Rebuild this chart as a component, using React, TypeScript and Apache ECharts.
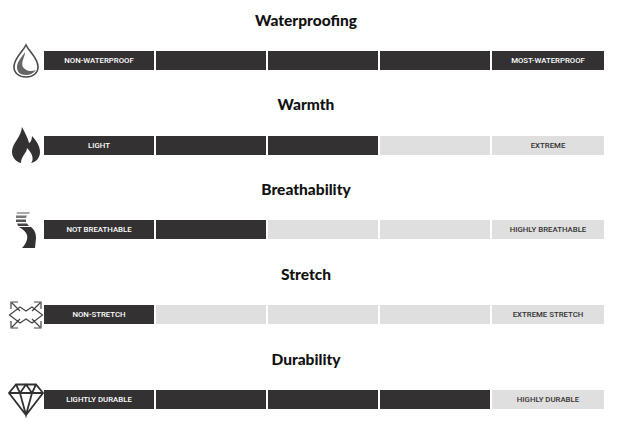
import React, { useEffect, useRef } from "react";
import * as echarts from "echarts";

const titles = ["Waterproofing", "Warmth", "Breathability", "Stretch", "Durability"];
const lowLabels = ["NON-WATERPROOF", "LIGHT", "NOT BREATHABLE", "NON-STRETCH", "LIGHTLY DURABLE"];
const highLabels = ["MOST-WATERPROOF", "EXTREME", "HIGHLY BREATHABLE", "EXTREME STRETCH", "HIGHLY DURABLE"];
const levels = [5, 3, 2, 1, 4];
const segments = [0, 1, 2, 3, 4];
const titleTops = [12, 96, 181, 266, 351];

const DARK = "#333132";
const LIGHT = "#dfdfdf";
const TITLE_FONT = "Lato, Inter, sans-serif";
const LABEL_FONT = "Roboto, sans-serif";

const shapes: Record<string, string> = {
  dropOuter: "M26 45C22 53 14 58 14 67C14 73 19 77 26 77C33 77 38 73 38 67C38 58 30 53 26 45Z",
  dropInner: "M25 52C21 58 17 62 17 67C17 72 20 75 26 75C30 75 34 73 36 70C30 72.500 24 70 22.500 66C21.500 60 25 57 25 52Z",
  flame: "M22 127C25 133 28 138 29 143C31 142 32 139 32 136C37 141 40 147 40 152C40 158 36 162 31 163C34 160 33 154 27 148C27 153 21 156 21 163C16 162 12 157 12 152C12 143 21 138 22 127Z",
  breathSolid: "M19 227L31 227C35 230 36 234 36 238L35 248L22 248C26 244 28 239 27 235C26 232 23 229 19 227Z",
  stripeA: "M17 212L30 212L29 214L16.500 214Z",
  stripeB: "M16 215.500L27 215.500L26 218L16 218Z",
  stripeC: "M16 219.500L26 219.500L26 222L16 222Z",
  stripeD: "M17 223.500L27 223.500L29 226L18 226Z",
  stretch: "M9.500 315L20 307L26 311L32 307L42.500 315L32 323L26 319L20 323ZM12 303L20 311M11 309L11 302L18 302M40 303L32 311M41 309L41 302L34 302M12 327L20 319M11 321L11 328L18 328M40 327L32 319M41 321L41 328L34 328",
  diamond: "M16 384.500L36 384.500L43 393L26 415L9 393ZM9 393L43 393M16 384.500L20 393L26 415L32 393L36 384.500M20 393L26 384.500L32 393",
};
Object.keys(shapes).forEach((k) => {
  echarts.graphic.registerShape("icon_" + k, echarts.graphic.extendPath(shapes[k] as any, {}));
});

const cells: number[][] = [];
titles.forEach((_, row) => {
  segments.forEach((seg) => {
    cells.push([seg, row, seg < levels[row] ? 1 : 0]);
  });
});

const labelFor = (seg: number, row: number) =>
  seg === 0 ? lowLabels[row] : seg === 4 ? highLabels[row] : "";

export default function App() {
  const ref = useRef<HTMLDivElement>(null);
  useEffect(() => {
    document.body.style.margin = "0";
    const chart = echarts.init(ref.current!, undefined, { renderer: "svg" });
    const icon = (name: string, style: any) => ({ type: "icon_" + name, x: 0, y: 0, style, silent: true });
    chart.setOption({
      animation: false,
      backgroundColor: "#ffffff",
      title: titles.map((t, i) => ({
        text: t,
        left: 306,
        top: titleTops[i],
        textAlign: "center",
        padding: 0,
        textStyle: { fontFamily: TITLE_FONT, fontSize: 15.500, fontWeight: 900, color: "#111111" },
      })),
      grid: { left: 44, top: 18.100, width: 560, height: 423.750, outerBoundsMode: "none" },
      xAxis: { type: "value", min: 0, max: 5, show: false },
      yAxis: { type: "category", data: titles, inverse: true, show: false },
      graphic: [
        icon("dropOuter", { fill: "none", stroke: "#4a4a4a", lineWidth: 1.6 }),
        icon("dropInner", { fill: "#666666" }),
        icon("flame", { fill: "#333132" }),
        icon("breathSolid", { fill: "#333132" }),
        icon("stripeA", { fill: "#aaaaaa" }),
        icon("stripeB", { fill: "#777777" }),
        icon("stripeC", { fill: "#555555" }),
        icon("stripeD", { fill: "#444444" }),
        icon("stretch", { fill: "none", stroke: "#444444", lineWidth: 1.2 }),
        icon("diamond", { fill: "none", stroke: "#333132", lineWidth: 1.8 }),
      ],
      series: [
        {
          type: "custom",
          silent: true,
          clip: false,
          coordinateSystem: "cartesian2d",
          data: cells,
          encode: { x: 0, y: 1 },
          renderItem: (_p: any, api: any) => {
            const seg = api.value(0);
            const row = api.value(1);
            const on = api.value(2) === 1;
            const [x0, yc] = api.coord([seg, row]);
            const [x1] = api.coord([seg + 1, row]);
            const w = x1 - x0 - (seg === 4 ? 0 : 2);
            const top = Math.round(yc - 9.500);
            const children: any[] = [
              { type: "rect", shape: { x: x0, y: top, width: w, height: 19 }, style: { fill: on ? DARK : LIGHT } },
            ];
            const text = labelFor(seg, row);
            if (text) {
              children.push({
                type: "text",
                style: {
                  x: x0 + w / 2,
                  y: top + 9.500,
                  text,
                  align: "center",
                  verticalAlign: "middle",
                  fill: on ? "#ffffff" : "#333132",
                  font: `500 7.800px ${LABEL_FONT}`,
                },
              });
            }
            return { type: "group", children };
          },
        },
      ],
    });
    return () => chart.dispose();
  }, []);
  return <div ref={ref} style={{ width: 632, height: 436 }} />;
}
